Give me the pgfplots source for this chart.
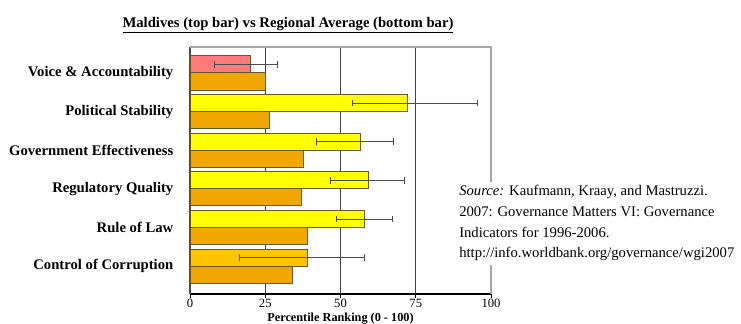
\documentclass[border=0pt]{standalone}
\usepackage{pgfplots}
\pgfplotsset{compat=1.18}
\usepackage{fontspec}
\setmainfont{Liberation Serif}
\definecolor{salmon}{RGB}{255,122,122}
\definecolor{yel}{RGB}{255,255,0}
\definecolor{lorange}{RGB}{255,196,0}
\definecolor{regorange}{RGB}{240,168,0}
\definecolor{barline}{RGB}{110,85,40}
\begin{document}
\begin{tikzpicture}
\useasboundingbox (0,0) rectangle (555.75pt,243pt);
\node[font=\bfseries\fontsize{11}{13}\selectfont, anchor=base] at (216pt,222.5pt) {\underline{Maldives (top bar) vs Regional Average (bottom bar)}};
\begin{axis}[
  at={(142.5pt,22.5pt)}, anchor=south west,
  scale only axis, width=225.75pt, height=185.25pt,
  xmin=0, xmax=100, ymin=-0.72, ymax=5.67,
  xbar, bar width=0.44,
  xtick={0,25,50,75,100},
  extra x ticks={25,50,75}, extra x tick labels={},
  extra x tick style={xmajorgrids=true, grid style={black!75, line width=0.8pt}},
  xtick pos=bottom, tick align=outside, major tick length=3pt,
  tick style={black, line width=0.6pt},
  ytick={0,1,2,3,4,5},
  yticklabels={Control of Corruption, Rule of Law, Regulatory Quality, Government Effectiveness, Political Stability, Voice \& Accountability},
  ytick style={draw=none},
  yticklabel style={font=\bfseries\fontsize{11}{13}\selectfont, xshift=-6pt},
  xticklabel style={font=\fontsize{9.5}{11}\selectfont, inner sep=1pt, yshift=0.5pt},
  /pgf/number format/assume math mode=true,
  axis x line*=bottom, axis y line*=left,
  x axis line style={black, line width=0.8pt, -},
  y axis line style={black!70, line width=0.8pt, -},
  xlabel={Percentile Ranking (0 - 100)},
  xlabel style={font=\bfseries\fontsize{9.2}{11}\selectfont, at={(rel axis cs:0.5,0)}, anchor=base, yshift=-20.6pt},
  clip=false,
]
\draw[black!35, line width=0.8pt] (rel axis cs:0,1) -- (rel axis cs:1,1) -- (rel axis cs:1,0);
% Regional average (bottom bars)
\addplot[bar shift=-0.22, fill=regorange, draw=barline, line width=0.6pt] coordinates {
  (25.2,5) (26.4,4) (37.6,3) (37.0,2) (39.0,1) (33.9,0)
};
% Maldives (top bars)
\addplot[bar shift=0.22, fill=salmon, draw=barline, line width=0.6pt,
  error bars/.cd, x dir=both, x explicit, error mark=|,
  error bar style={black!70, line width=0.6pt},
  error mark options={black!70, line width=0.6pt, mark size=2.5pt}] coordinates {
  (20.0,5) += (8.9,0) -= (11.9,0)
};
\addplot[bar shift=0.22, fill=yel, draw=barline, line width=0.6pt,
  error bars/.cd, x dir=both, x explicit, error mark=|,
  error bar style={black!70, line width=0.6pt},
  error mark options={black!70, line width=0.6pt, mark size=2.5pt}] coordinates {
  (72.2,4) += (23.4,0) -= (18.1,0)
  (56.7,3) += (10.9,0) -= (14.7,0)
  (59.4,2) += (11.9,0) -= (12.7,0)
  (58.1,1) += (9.3,0) -= (9.5,0)
};
\addplot[bar shift=0.22, fill=lorange, draw=barline, line width=0.6pt,
  error bars/.cd, x dir=both, x explicit, error mark=|,
  error bar style={black!70, line width=0.6pt},
  error mark options={black!70, line width=0.6pt, mark size=2.5pt}] coordinates {
  (39.0,0) += (19.1,0) -= (22.6,0)
};
\end{axis}
\node[fill=white, anchor=north west, inner sep=3pt, align=left,
  font=\fontsize{11}{15.5}\selectfont] at (341.25pt,107pt)
  {\textit{Source:} Kaufmann, Kraay, and Mastruzzi.\\
   2007: Governance Matters VI: Governance\\
   Indicators for 1996-2006.\\
   http://info.worldbank.org/governance/wgi2007};
\end{tikzpicture}
\end{document}
